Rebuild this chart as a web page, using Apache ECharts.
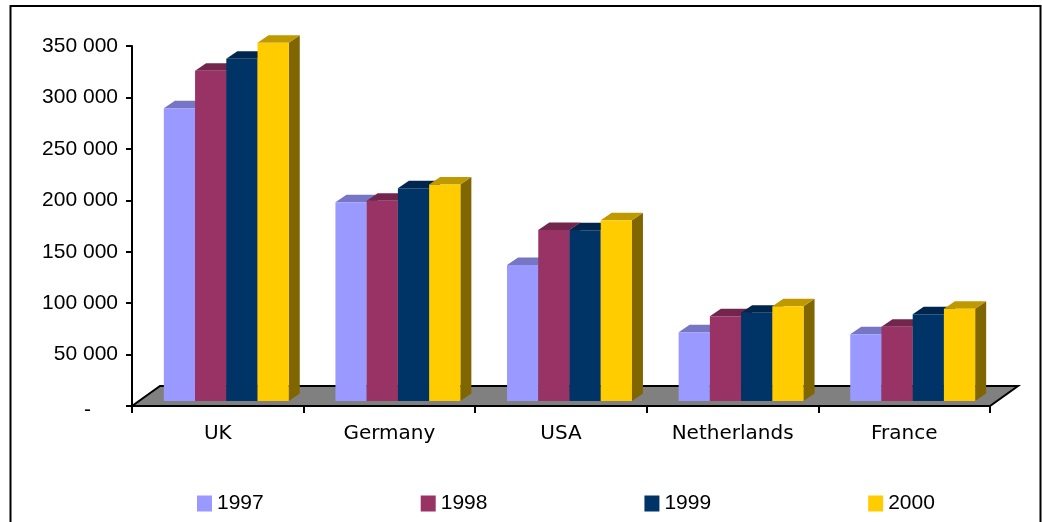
<!DOCTYPE html>
<html><head><meta charset="utf-8">
<script src="https://cdn.jsdelivr.net/npm/echarts@6/dist/echarts.min.js"></script>
<style>html,body{margin:0;padding:0;background:#fff}#c{width:1042px;height:522px}</style>
</head><body><div id="c"></div>
<script>
var categories = ['UK', 'Germany', 'USA', 'Netherlands', 'France'];
var years = ['1997', '1998', '1999', '2000'];
var v1997 = [284500, 193200, 132200, 66800, 64800];
var v1998 = [321100, 194800, 166300, 82300, 72300];
var v1999 = [332800, 206800, 166000, 85900, 84300];
var v2000 = [348400, 210600, 175700, 92000, 89800];
var yMin = 0, yMax = 350000, yStep = 50000;

var frontColors = ['#9999FF', '#993366', '#003366', '#FFCC00'];
var topColors = ['#7676C4', '#73264D', '#00264D', '#BF9900'];
var sideColors = ['#4D4D80', '#4D1A33', '#001A33', '#806600'];

var BAR_FRAC = 0.182, SHIFT_X = 8.5, SHIFT_Y = -5, DEPTH_X = 11, DEPTH_Y = -7.5;
var FLOOR_X = 28, FLOOR_Y = -20;

function fmt(v) {
  if (v === 0) return '{d|-}';
  return String(v).replace(/\B(?=(\d{3})+(?!\d))/g, ' ');
}

function makeRender(k) {
  return function (params, api) {
    var ci = api.value(0), v = api.value(1);
    var p0 = api.coord([ci, 0]), p1 = api.coord([ci, v]);
    var band = api.size([1, 0])[0];
    var bw = band * BAR_FRAC;
    var xl = p0[0] - 2 * bw + k * bw + SHIFT_X;
    var xr = xl + bw;
    var yb = p0[1] + SHIFT_Y, yt = p1[1] + SHIFT_Y;
    return {
      type: 'group', children: [
        { type: 'polygon', shape: { points: [[xr, yb], [xr + DEPTH_X, yb + DEPTH_Y], [xr + DEPTH_X, yt + DEPTH_Y], [xr, yt]] }, style: { fill: sideColors[k] } },
        { type: 'polygon', shape: { points: [[xl, yt], [xl + DEPTH_X, yt + DEPTH_Y], [xr + DEPTH_X, yt + DEPTH_Y], [xr, yt]] }, style: { fill: topColors[k] } },
        { type: 'rect', shape: { x: xl, y: yt, width: bw, height: yb - yt }, style: { fill: frontColors[k] } }
      ]
    };
  };
}

var seriesVals = [v1997, v1998, v1999, v2000];
var series = [{
  type: 'custom', name: 'floor', silent: true,
  itemStyle: { color: '#808080' },
  data: [[0, 0]],
  encode: { x: 0, y: 1 },
  renderItem: function (params, api) {
    var cs = params.coordSys;
    var yb = cs.y + cs.height, x0 = cs.x, x1 = cs.x + cs.width;
    return {
      type: 'polygon',
      shape: { points: [[x0, yb], [x0 + FLOOR_X, yb + FLOOR_Y], [x1 + FLOOR_X, yb + FLOOR_Y], [x1, yb]] },
      style: { fill: '#808080', stroke: '#000', lineWidth: 2, lineJoin: 'miter' }
    };
  }
}];
years.forEach(function (y, k) {
  series.push({
    type: 'custom', name: y,
    itemStyle: { color: frontColors[k] },
    encode: { x: 0, y: 1 },
    data: seriesVals[k].map(function (v, i) { return [i, v]; }),
    renderItem: makeRender(k)
  });
});

var chart = echarts.init(document.getElementById('c'), null, { renderer: 'canvas' });
chart.setOption({
  backgroundColor: '#fff',
  animation: false,
  grid: { left: 132, right: 52, top: 46, bottom: 116, containLabel: false, outerBoundsMode: 'none' },
  legend: {
    data: years, left: 192, top: 488, icon: 'rect', itemWidth: 15, itemHeight: 16, itemGap: 157,
    textStyle: { fontFamily: 'Liberation Sans', fontSize: 21, color: '#000' }
  },
  xAxis: {
    type: 'category', data: categories,
    axisLine: { show: true, lineStyle: { color: '#000', width: 2 } },
    axisTick: { show: true, length: 7, lineStyle: { color: '#000', width: 2 } },
    axisLabel: { fontFamily: 'DejaVu Sans', fontSize: 20, color: '#000', margin: 18 },
    splitLine: { show: false }
  },
  yAxis: {
    type: 'value', min: yMin, max: yMax, interval: yStep,
    axisLine: { show: true, lineStyle: { color: '#000', width: 2 } },
    axisTick: { show: true, length: 6, lineStyle: { color: '#000', width: 2 } },
    axisLabel: {
      fontFamily: 'Liberation Sans', fontSize: 21, color: '#000', margin: 14,
      formatter: fmt, rich: { d: { fontFamily: 'Liberation Sans', fontSize: 21, color: '#000', padding: [8, 27, 0, 0] } }
    },
    splitLine: { show: false }
  },
  graphic: [{
    type: 'rect', silent: true, z: 100,
    shape: { x: 10.5, y: 6, width: 1030, height: 540 },
    style: { fill: null, stroke: '#000', lineWidth: 2 }
  }],
  series: series
});
</script>
</body></html>
